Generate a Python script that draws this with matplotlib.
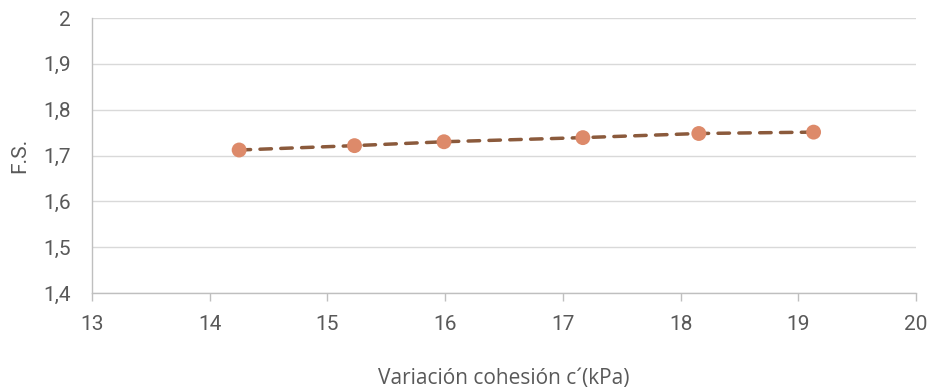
import matplotlib
matplotlib.use('Agg')
import matplotlib.pyplot as plt
from matplotlib.ticker import FuncFormatter

plt.rcParams['font.family'] = ['Roboto', 'DejaVu Sans']

# cohesion c' (kPa) vs factor of safety
cohesion = [14.25, 15.23, 15.99, 17.17, 18.155, 19.13]
fs = [1.712, 1.7215, 1.730, 1.739, 1.748, 1.751]

x_ticks = [13, 14, 15, 16, 17, 18, 19, 20]
y_ticks = [1.4, 1.5, 1.6, 1.7, 1.8, 1.9, 2.0]

grey_txt = '#595959'
grey_ax = '#BFBFBF'

fig = plt.figure(figsize=(9.3, 3.92), dpi=100)
ax = fig.add_axes([92/930, 1 - 293/392, (916-92)/930, (293-18)/392])

ax.plot(cohesion, fs, ls=(0, (3.3, 2.7)), lw=2.5, color='#8B5A3C', zorder=2,
        dash_capstyle='round')
ax.scatter(cohesion, fs, s=115, color='#DD8A6A', edgecolor='none', zorder=3)

ax.set_xlim(13, 20)
ax.set_ylim(1.4, 2.0)
ax.set_xticks(x_ticks)
ax.set_yticks(y_ticks)

comma = FuncFormatter(lambda v, p: ('%g' % round(v, 2)).replace('.', ','))
ax.yaxis.set_major_formatter(comma)

ax.grid(axis='y', color='#D9D9D9', lw=1)
ax.set_axisbelow(True)
for s in ['top', 'right']:
    ax.spines[s].set_visible(False)
for s in ['left', 'bottom']:
    ax.spines[s].set_color(grey_ax)
    ax.spines[s].set_linewidth(1)

ax.tick_params(axis='x', colors=grey_ax, length=6, width=1, direction='out',
               labelcolor=grey_txt, labelsize=15, pad=10)
ax.tick_params(axis='y', length=0, labelcolor=grey_txt, labelsize=15, pad=15)

ax.set_xlabel('Variación cohesión c´(kPa)', color=grey_txt, fontsize=15,
              family=['Open Sans', 'DejaVu Sans'], labelpad=24)
ax.set_ylabel('F.S.', color=grey_txt, fontsize=15, labelpad=10)

fig.savefig('out.png', dpi=100)
